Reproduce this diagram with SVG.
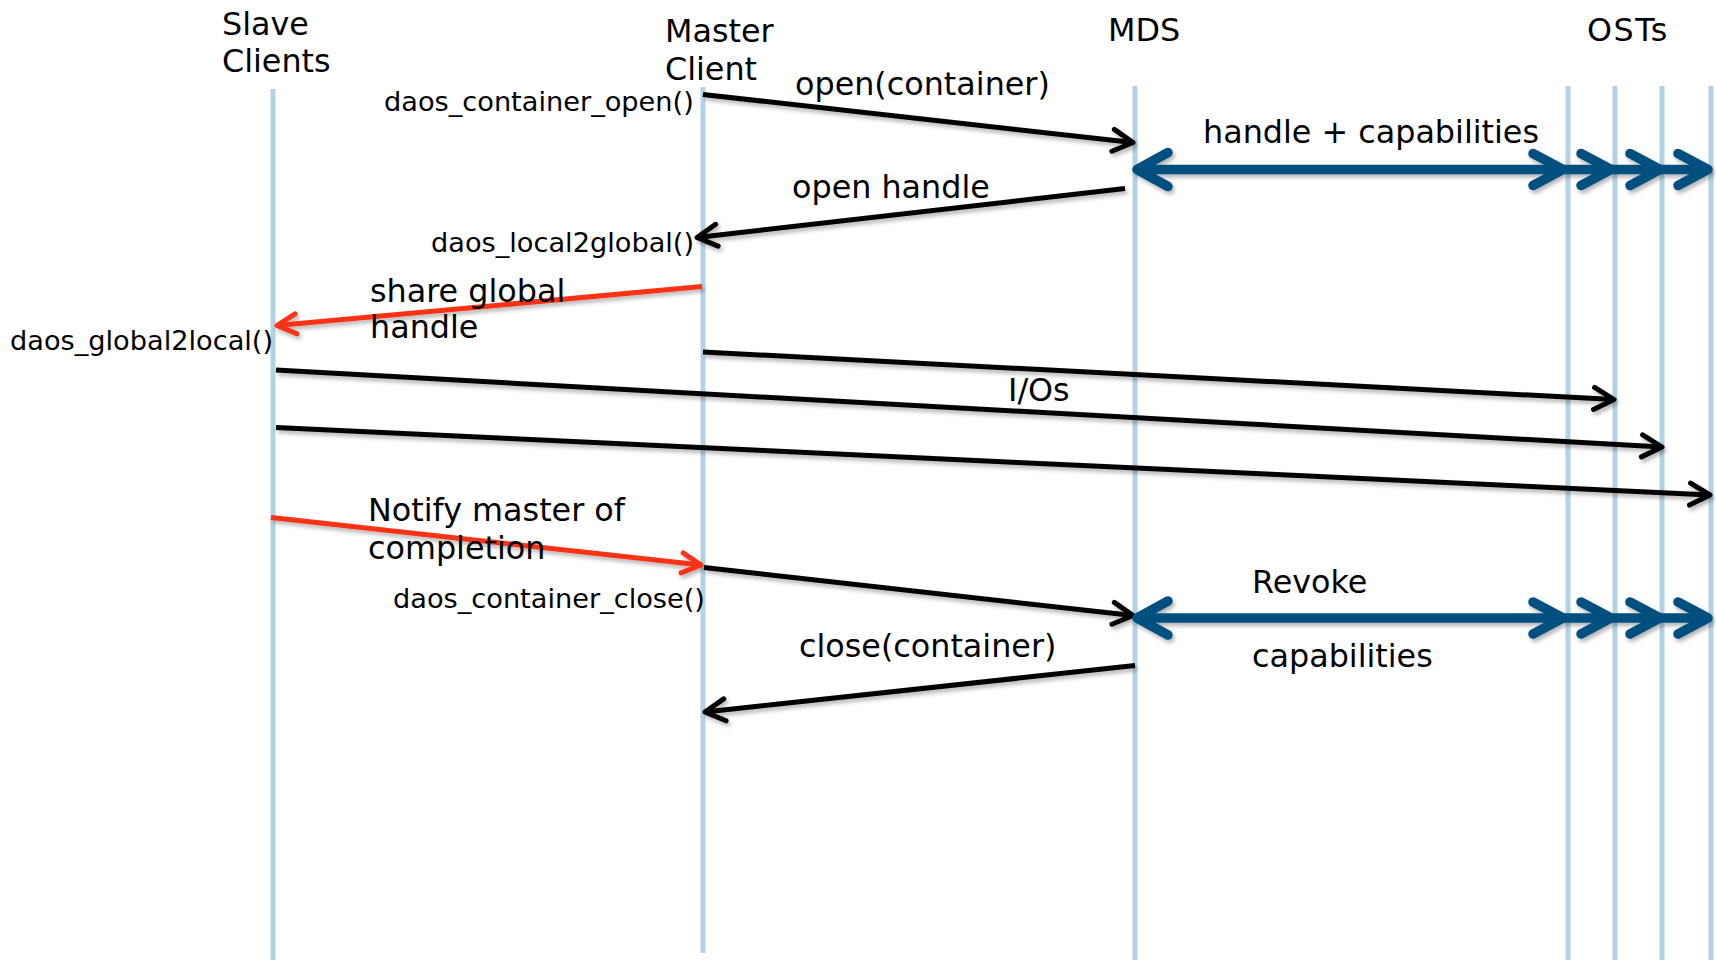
<svg xmlns="http://www.w3.org/2000/svg" xmlns:xlink="http://www.w3.org/1999/xlink" width="1716" height="960" viewBox="0 0 1716 960">
  <style>
    text { font-family: "DejaVu Sans", Verdana, sans-serif; fill: #000; }
    .hdr { font-size: 31.8px; }
    .lbl { font-size: 31.8px; }
    .fn { font-size: 27.2px; }
    .life { stroke: #b4d2e5; stroke-width: 5; fill: none; }
    .msg { stroke: #000; stroke-width: 5; fill: none; }
    .msg-red { stroke: #fa3214; stroke-width: 5; fill: none; }
    .cap { stroke: #00507f; stroke-width: 9.5; fill: none; stroke-linecap: butt; }
    .chev { stroke: #00507f; stroke-width: 9.5; fill: none; stroke-linecap: round; stroke-linejoin: round; }
  </style>
  <defs>
    <filter id="shadow" x="-5%" y="-50%" width="110%" height="200%">
      <feDropShadow dx="2" dy="3" stdDeviation="2" flood-color="#000" flood-opacity="0.3"/>
    </filter>
    <marker id="ah-black" markerUnits="userSpaceOnUse" markerWidth="30" markerHeight="30" viewBox="-25 -15 30 30" refX="0" refY="0" orient="auto" overflow="visible">
      <path d="M-20,-11 L0,0 L-20,11" fill="none" stroke="#000" stroke-width="5" stroke-linecap="round" stroke-linejoin="round"/>
    </marker>
    <marker id="ah-red" markerUnits="userSpaceOnUse" markerWidth="30" markerHeight="30" viewBox="-25 -15 30 30" refX="0" refY="0" orient="auto" overflow="visible">
      <path d="M-19,-10 L0,0 L-19,10" fill="none" stroke="#fa3214" stroke-width="5" stroke-linecap="round" stroke-linejoin="round"/>
    </marker>
    <path id="chev-r" d="M-30,-16 L0,0 L-30,16"/>
    <path id="chev-l" d="M31,-17 L0,0 L31,17"/>
  </defs>

  <rect width="1716" height="960" fill="#fff"/>

  <!-- lifelines with their headers -->
  <g id="slave-clients">
    <line class="life" x1="273" y1="89" x2="273" y2="960"/>
    <text class="hdr" x="222" y="35">Slave</text>
    <text class="hdr" x="222" y="72">Clients</text>
  </g>
  <g id="master-client">
    <line class="life" x1="703" y1="87" x2="703" y2="953"/>
    <text class="hdr" x="665" y="42">Master</text>
    <text class="hdr" x="665" y="80">Client</text>
  </g>
  <g id="mds">
    <line class="life" x1="1135" y1="86" x2="1135" y2="960"/>
    <text class="hdr" x="1108" y="41">MDS</text>
  </g>
  <g id="osts">
    <line class="life" x1="1568" y1="86" x2="1568" y2="960"/>
    <line class="life" x1="1615" y1="86" x2="1615" y2="960"/>
    <line class="life" x1="1662" y1="86" x2="1662" y2="960"/>
    <line class="life" x1="1711" y1="86" x2="1711" y2="960"/>
    <text class="hdr" x="1587" y="41" letter-spacing="1.5">OSTs</text>
  </g>

  <!-- messages -->
  <g id="connectors" filter="url(#shadow)">
    <line class="msg" x1="703" y1="94.5" x2="1133" y2="142.5" marker-end="url(#ah-black)"/>
    <line class="msg" x1="1125" y1="188.5" x2="697" y2="237.5" marker-end="url(#ah-black)"/>
    <line class="msg-red" x1="702" y1="286.5" x2="277" y2="325.5" marker-end="url(#ah-red)"/>
    <line class="msg" x1="703" y1="352" x2="1614" y2="399.5" marker-end="url(#ah-black)"/>
    <line class="msg" x1="276" y1="370" x2="1662" y2="447" marker-end="url(#ah-black)"/>
    <line class="msg" x1="276" y1="427.5" x2="1710" y2="495" marker-end="url(#ah-black)"/>
    <line class="msg-red" x1="271" y1="517.5" x2="701" y2="565" marker-end="url(#ah-red)"/>
    <line class="msg" x1="704" y1="567.5" x2="1133" y2="615.5" marker-end="url(#ah-black)"/>
    <line class="msg" x1="1135" y1="665.5" x2="705" y2="712" marker-end="url(#ah-black)"/>

    <!-- handle + capabilities broadcast -->
    <line class="cap" x1="1141" y1="169.5" x2="1704" y2="169.5"/>
    <use xlink:href="#chev-l" class="chev" x="1137" y="169.5"/>
    <use xlink:href="#chev-r" class="chev" x="1563" y="169.5"/>
    <use xlink:href="#chev-r" class="chev" x="1611" y="169.5"/>
    <use xlink:href="#chev-r" class="chev" x="1660" y="169.5"/>
    <use xlink:href="#chev-r" class="chev" x="1708" y="169.5"/>

    <!-- revoke capabilities broadcast -->
    <line class="cap" x1="1141" y1="618" x2="1704" y2="618"/>
    <use xlink:href="#chev-l" class="chev" x="1137" y="618"/>
    <use xlink:href="#chev-r" class="chev" x="1563" y="618"/>
    <use xlink:href="#chev-r" class="chev" x="1611" y="618"/>
    <use xlink:href="#chev-r" class="chev" x="1660" y="618"/>
    <use xlink:href="#chev-r" class="chev" x="1708" y="618"/>
  </g>

  <!-- message labels -->
  <g id="labels">
    <text class="fn" x="384" y="111">daos_container_open()</text>
    <text class="lbl" x="795" y="95">open(container)</text>
    <text class="lbl" x="1203" y="143">handle + capabilities</text>
    <text class="lbl" x="792" y="198">open handle</text>
    <text class="fn" x="431" y="252">daos_local2global()</text>
    <text class="lbl" x="370" y="302">share global</text>
    <text class="lbl" x="370" y="338">handle</text>
    <text class="fn" x="10" y="350">daos_global2local()</text>
    <text class="lbl" x="1008" y="401">I/Os</text>
    <text class="lbl" x="368" y="521">Notify master of</text>
    <text class="lbl" x="368" y="559">completion</text>
    <text class="fn" x="393" y="608">daos_container_close()</text>
    <text class="lbl" x="1252" y="593">Revoke</text>
    <text class="lbl" x="1252" y="667">capabilities</text>
    <text class="lbl" x="799" y="657">close(container)</text>
  </g>
</svg>
